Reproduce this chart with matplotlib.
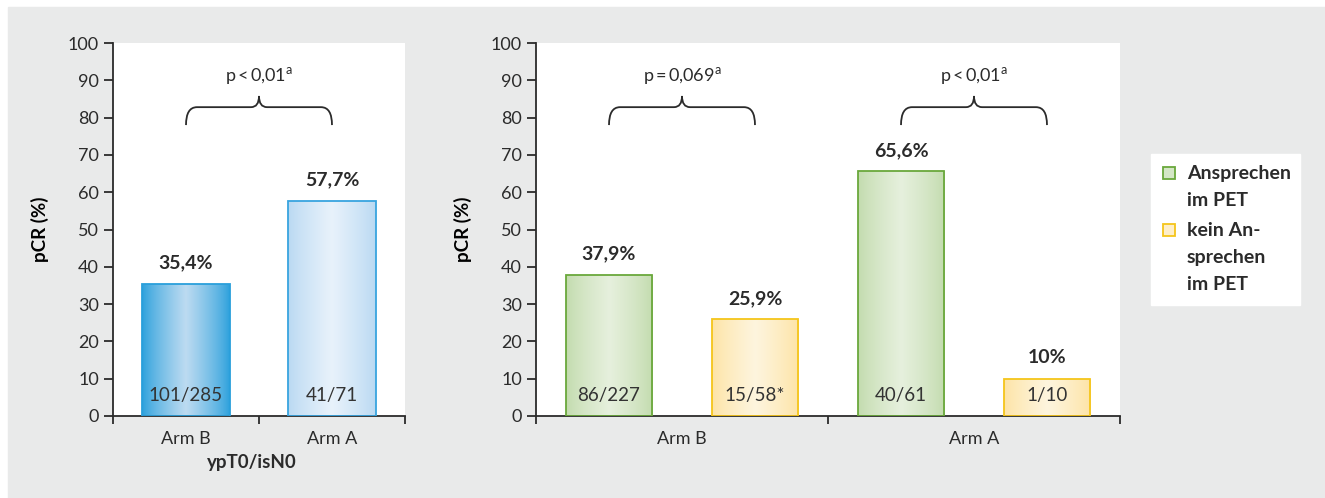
import numpy as np
import matplotlib
matplotlib.use("Agg")
import matplotlib.pyplot as plt
from matplotlib.patches import Rectangle, PathPatch
from matplotlib.path import Path
from matplotlib.colors import to_rgb

#%% data
left_cats = ["Arm B", "Arm A"]
left_vals = [35.4, 57.7]
left_labels = ["35,4%", "57,7%"]
left_counts = ["101/285", "41/71"]

right_cats = ["Arm B", "Arm A"]
resp_vals = [37.9, 65.6]
resp_labels = ["37,9%", "65,6%"]
resp_counts = ["86/227", "40/61"]
noresp_vals = [25.9, 10]
noresp_labels = ["25,9%", "10%"]
noresp_counts = ["15/58*", "1/10"]

p_left = ["p\u2009<\u20090,01"]
p_right = ["p\u2009=\u20090,069", "p\u2009<\u20090,01"]
legend_labels = ["Ansprechen\nim PET", "kein An-\nsprechen\nim PET"]

#%% style
W, H = 1325, 498
TXT = "#2b2b2b"
plt.rcParams['font.family'] = ['Lato', 'DejaVu Sans']
plt.rcParams['mathtext.fontset'] = 'custom'
plt.rcParams['mathtext.rm'] = 'Lato'
plt.rcParams['text.color'] = TXT

fig = plt.figure(figsize=(W / 100, H / 100), dpi=100, facecolor="white")
fig.add_artist(Rectangle((8 / W, 0), 1, (H - 7) / H, transform=fig.transFigure,
                         color="#e9eaea", zorder=-10))

axL = fig.add_axes([113 / W, 1 - 416 / H, 292 / W, 373 / H])
axR = fig.add_axes([536 / W, 1 - 416 / H, 584 / W, 373 / H])


def grad_bar(ax, x, h, w, edge, center, border):
    bar = ax.bar(x, h, w, color="none", edgecolor=border, lw=1.3, zorder=3)[0]
    t = np.linspace(0, 1, 256)
    m = (1 - np.abs(2 * t - 1)) ** 0.8
    e, c = np.array(to_rgb(edge)), np.array(to_rgb(center))
    img = (e[None, :] * (1 - m[:, None]) + c[None, :] * m[:, None])[None, :, :]
    im = ax.imshow(img, extent=[x - w / 2, x + w / 2, 0, h], aspect="auto",
                   zorder=2, interpolation="bilinear")
    im.set_clip_path(bar)


def brace(ax, x0, x1, text, px_w):
    # px_w: axes width in pixels
    xr = ax.get_xlim()
    sx = (xr[1] - xr[0]) / px_w
    yb, yh, yp = 78.0, 82.8, 85.8
    r = 11 * sx
    rc = 8 * sx
    xm = (x0 + x1) / 2
    verts = [(x0, yb), (x0, yh), (x0 + r, yh), (xm - rc, yh), (xm, yh), (xm, yp),
             (xm, yh), (xm + rc, yh), (x1 - r, yh), (x1, yh), (x1, yb)]
    codes = [Path.MOVETO, Path.CURVE3, Path.CURVE3, Path.LINETO, Path.CURVE3, Path.CURVE3,
             Path.CURVE3, Path.CURVE3, Path.LINETO, Path.CURVE3, Path.CURVE3]
    ax.add_patch(PathPatch(Path(verts, codes), fill=False, lw=1.3, color=TXT, zorder=4))
    ax.text(xm, 91, text + r"$^{\mathrm{a}}$", ha="center", va="center",
            fontsize=13, color=TXT)


def style(ax, cats):
    ax.set_facecolor("white")
    for s in ["top", "right"]:
        ax.spines[s].set_visible(False)
    for s in ["left", "bottom"]:
        ax.spines[s].set_color(TXT)
        ax.spines[s].set_linewidth(1.3)
    ax.set_ylim(0, 100)
    ax.set_xlim(-0.5, 1.5)
    ax.set_yticks(range(0, 101, 10))
    ax.set_xticks(range(len(cats)))
    ax.set_xticklabels(cats)
    ax.set_xticks([-0.5, 0.5, 1.5], minor=True)
    ax.tick_params(axis="y", length=6.5, width=1.3, color=TXT, pad=3.5,
                   labelsize=13, labelcolor=TXT)
    ax.tick_params(axis="x", which="major", length=0, pad=11, labelsize=13, labelcolor=TXT)
    ax.tick_params(axis="x", which="minor", length=6, width=1.3, color=TXT)
    ax.set_ylabel("pCR (%)", fontsize=13.5, fontweight="bold", labelpad=14)


def val_label(ax, x, v, lab, cnt):
    ax.annotate(lab, (x, v), xytext=(0, 21), textcoords="offset pixels",
                ha="center", va="center", fontsize=14, fontweight="bold")
    ax.text(x, 5.6, cnt, ha="center", va="center", fontsize=13.5, color="#333333", zorder=5)


#%% left panel
style(axL, left_cats)
xl = np.arange(len(left_cats))
grad_bar(axL, xl[0], left_vals[0], 0.6, "#2aa0dc", "#bddbf1", "#2a9fdb")
grad_bar(axL, xl[1], left_vals[1], 0.6, "#b8d8f2", "#e8f2fb", "#38a4df")
for x, v, lab, cnt in zip(xl, left_vals, left_labels, left_counts):
    val_label(axL, x, v, lab, cnt)
axL.set_xlim(-0.5, 1.5)
axL.set_ylim(0, 100)
brace(axL, xl[0], xl[1], p_left[0], 292)
fig.text(252 / W, 1 - 462 / H, "ypT0/isN0", ha="center", va="center",
         fontsize=13.5, fontweight="bold")

#%% right panel
style(axR, right_cats)
xr = np.arange(len(right_cats))
for i in range(len(right_cats)):
    grad_bar(axR, xr[i] - 0.25, resp_vals[i], 0.295, "#c2dbad", "#e6f0dd", "#6aa83c")
    grad_bar(axR, xr[i] + 0.25, noresp_vals[i], 0.295, "#fde3a4", "#fef5de", "#f5c51a")
    val_label(axR, xr[i] - 0.25, resp_vals[i], resp_labels[i], resp_counts[i])
    val_label(axR, xr[i] + 0.25, noresp_vals[i], noresp_labels[i], noresp_counts[i])
axR.set_xlim(-0.5, 1.5)
axR.set_ylim(0, 100)
for i in range(len(right_cats)):
    brace(axR, xr[i] - 0.25, xr[i] + 0.25, p_right[i], 584)

#%% legend
fig.add_artist(Rectangle((1151 / W, 1 - 305 / H), 149 / W, 151 / H,
                         transform=fig.transFigure, color="white", zorder=1))
leg_cols = [("#d4e6c6", "#6aa83c"), ("#feeec8", "#f5c51a")]
y0s = [173, 230]
for lab, (fc, ec), y0 in zip(legend_labels, leg_cols, y0s):
    fig.add_artist(Rectangle((1163 / W, 1 - (y0 + 6) / H), 12 / W, 12 / H,
                             transform=fig.transFigure, facecolor=fc, edgecolor=ec,
                             lw=1.3, zorder=2))
    for k, line in enumerate(lab.split("\n")):
        fig.text(1187 / W, 1 - (y0 + 27 * k) / H, line, ha="left", va="center",
                 fontsize=14, fontweight="bold", zorder=3)

fig.savefig("out.png", dpi=100, facecolor=fig.get_facecolor())
